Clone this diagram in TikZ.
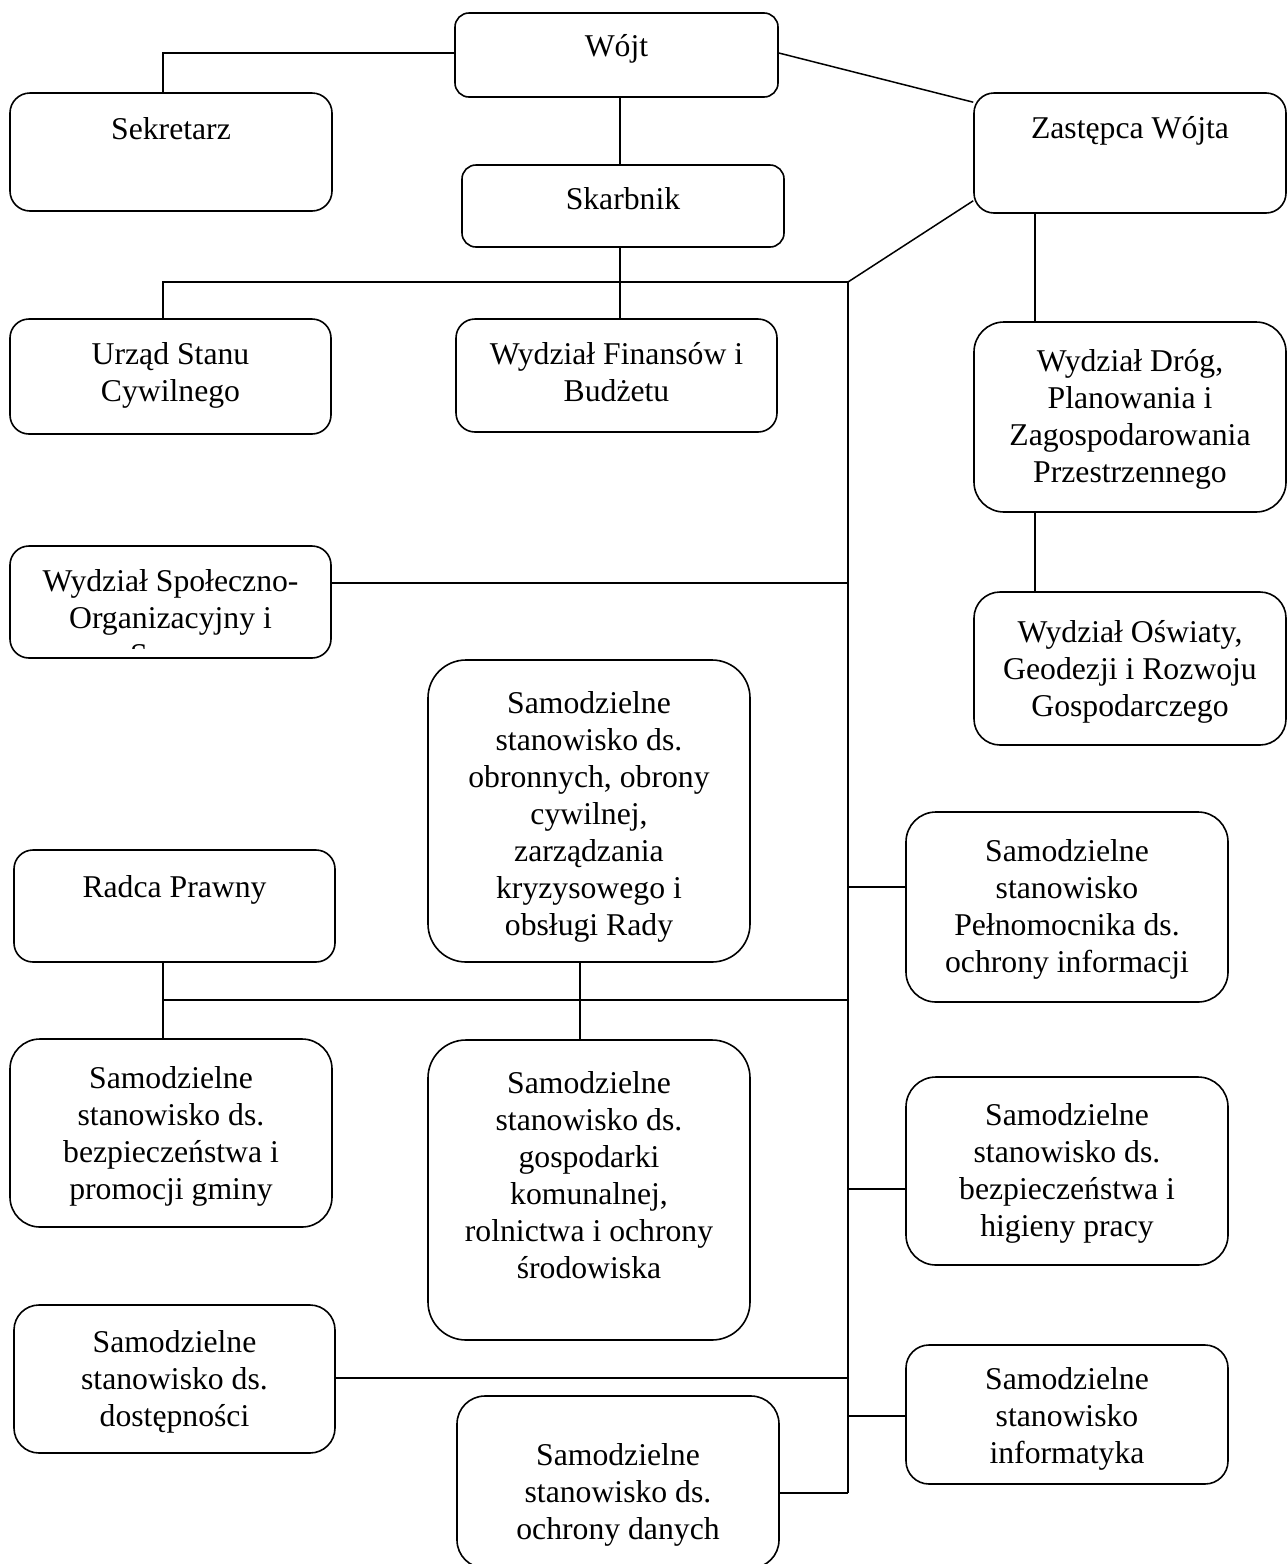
\documentclass[tikz,border=0pt]{standalone}
\usepackage{fontspec}
\setmainfont{Liberation Serif}
\usetikzlibrary{positioning, calc}

\tikzset{
  orgbox/.style={draw, line width=1.6pt, rounded corners=#1, inner sep=0pt},
  orgbox/.default=20pt,
  orgtxt/.style={anchor=north, align=center, inner sep=0pt, font=\fontsize{31.7}{37}\selectfont},
  link/.style={line width=1.5pt}
}

\begin{document}
\begin{tikzpicture}[x=1pt,y=-1pt]
\clip (0,0) rectangle (1287,1564);

% boxes
\node[orgbox=14pt, minimum width=323pt, minimum height=84pt] (wojt) at (616.5,55) {};
\node[orgbox, minimum width=322pt, minimum height=118pt] (sekretarz) at (171,152) {};
\node[orgbox, minimum width=312pt, minimum height=120pt] (zastepca) at (1130,153) {};
\node[orgbox=14pt, minimum width=322pt, minimum height=82pt] (skarbnik) at (623,206) {};
\node[orgbox=19pt, minimum width=321pt, minimum height=115pt] (usc) at (170.5,376.5) {};
\node[orgbox=19pt, minimum width=321pt, minimum height=113pt] (finanse) at (616.5,375.5) {};
\node[orgbox=30pt, minimum width=312pt, minimum height=190pt] (drogi) at (1130,417) {};
\node[orgbox=19pt, minimum width=321pt, minimum height=112pt] (spoleczny) at (170.5,602) {};
\node[orgbox=26pt, minimum width=312pt, minimum height=153pt] (oswiata) at (1130,668.5) {};
\node[orgbox=38pt, minimum width=322pt, minimum height=302pt] (obronne) at (589,811) {};
\node[orgbox=19pt, minimum width=321pt, minimum height=112pt] (radca) at (174.5,906) {};
\node[orgbox=30pt, minimum width=322pt, minimum height=190pt] (pelnomocnik) at (1067,907) {};
\node[orgbox=30pt, minimum width=322pt, minimum height=188pt] (promocja) at (171,1133) {};
\node[orgbox=38pt, minimum width=322pt, minimum height=300pt] (komunalna) at (589,1190) {};
\node[orgbox=30pt, minimum width=322pt, minimum height=188pt] (bhp) at (1067,1171) {};
\node[orgbox=25pt, minimum width=321pt, minimum height=148pt] (dostepnosc) at (174.5,1379) {};
\node[orgbox=28pt, minimum width=322pt, minimum height=172pt] (dane) at (618,1482) {};
\node[orgbox=23pt, minimum width=322pt, minimum height=139pt] (informatyka) at (1067,1414.5) {};

% texts
\node[orgtxt] (wojtt) at (616.5,34) {Wójt};
\node[orgtxt] (sekretarzt) at (171,117) {Sekretarz};
\node[orgtxt] (zastepcat) at (1130,116) {Zastępca Wójta};
\node[orgtxt] (skarbnikt) at (623,187) {Skarbnik};
\node[orgtxt] (usct) at (170.5,342) {Urząd Stanu\\Cywilnego};
\node[orgtxt] (finanset) at (616.5,342) {Wydział Finansów i\\Budżetu};
\node[orgtxt] (drogit) at (1130,349) {Wydział Dróg,\\Planowania i\\Zagospodarowania\\Przestrzennego};
\begin{scope}
\clip (10,546) rectangle (331,648);
\node[orgtxt] (spolecznyt) at (170.5,569) {Wydział Społeczno-\\Organizacyjny i\\Spraw};
\end{scope}
\node[orgtxt] (oswiatat) at (1130,620) {Wydział Oświaty,\\Geodezji i Rozwoju\\Gospodarczego};
\node[orgtxt] (obronnet) at (589,691) {Samodzielne\\stanowisko ds.\\obronnych, obrony\\cywilnej,\\zarządzania\\kryzysowego i\\obsługi Rady};
\node[orgtxt] (radcat) at (174.5,875) {Radca Prawny};
\node[orgtxt] (pelnomocnikt) at (1067,839) {Samodzielne\\stanowisko\\Pełnomocnika ds.\\ochrony informacji};
\node[orgtxt] (promocjat) at (171,1066) {Samodzielne\\stanowisko ds.\\bezpieczeństwa i\\promocji gminy};
\node[orgtxt] (komunalnat) at (589,1071) {Samodzielne\\stanowisko ds.\\gospodarki\\komunalnej,\\rolnictwa i ochrony\\środowiska};
\node[orgtxt] (bhpt) at (1067,1103) {Samodzielne\\stanowisko ds.\\bezpieczeństwa i\\higieny pracy};
\node[orgtxt] (dostepnosct) at (174.5,1330) {Samodzielne\\stanowisko ds.\\dostępności};
\node[orgtxt] (danet) at (618,1443) {Samodzielne\\stanowisko ds.\\ochrony danych};
\node[orgtxt] (informatykat) at (1067,1367) {Samodzielne\\stanowisko\\informatyka};

% spine
\coordinate (spinetop) at (848,282);
\coordinate (spinebot) at (848,1493);
\coordinate (radcabar) at (848,1000);

% connectors
\draw[link] ([yshift=2]wojt.west) -| ([xshift=-8]sekretarz.north);
\draw[link] ([yshift=2]wojt.east) -- ([yshift=-10]zastepca.north west);
\draw[link] ([xshift=3.5]wojt.south) -- ([xshift=-3]skarbnik.north);
\draw[link] ([xshift=-3]skarbnik.south) -- ([xshift=3.5]finanse.north);
\draw[link] ([xshift=-7.5]usc.north) |- (spinetop) -- (spinebot);
\draw[link] ([yshift=13]zastepca.south west) -- (spinetop);
\draw[link] ([xshift=-95]zastepca.south) -- ([xshift=-95]drogi.north);
\draw[link] ([xshift=-95]drogi.south) -- ([xshift=-95]oswiata.north);
\draw[link] ([yshift=19]spoleczny.east) -- ([yshift=19]spoleczny.east -| spinetop);
\draw[link] ([yshift=20]pelnomocnik.west) -- ([yshift=20]pelnomocnik.west -| spinetop);
\draw[link] ([xshift=-11.5]radca.south) |- (radcabar);
\draw[link] ([xshift=-8]promocja.north) -- ([xshift=-8]promocja.north |- radcabar);
\draw[link] ([xshift=-9]obronne.south) -- ([xshift=-9]komunalna.north);
\draw[link] ([yshift=-18]bhp.west) -- ([yshift=-18]bhp.west -| spinetop);
\draw[link] ([yshift=1]dostepnosc.east) -- ([yshift=1]dostepnosc.east -| spinetop);
\draw[link] ([yshift=-1.5]informatyka.west) -- ([yshift=-1.5]informatyka.west -| spinetop);
\draw[link] ([yshift=-11]dane.east) -- (spinebot);
\end{tikzpicture}
\end{document}
